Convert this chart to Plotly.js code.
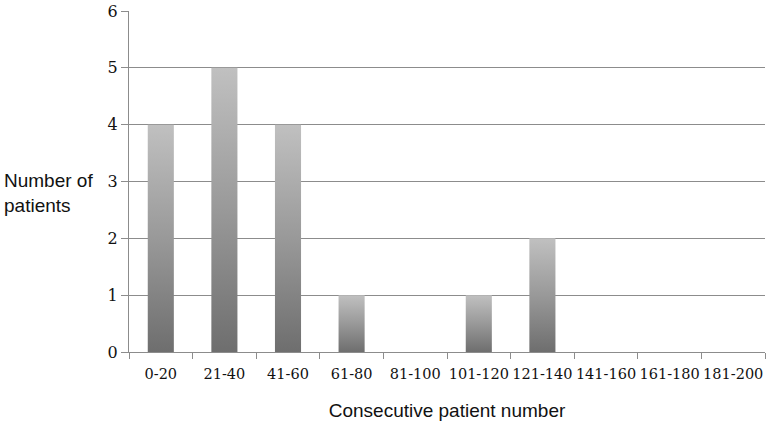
<!DOCTYPE html>
<html>
<head>
<meta charset="utf-8">
<script src="https://cdn.plot.ly/plotly-3.0.1.min.js"></script>
<style>html,body{margin:0;padding:0;background:#fff;}#chart{width:767px;height:423px;}</style>
</head>
<body>
<div id="chart"></div>
<script>
const categories = ['0-20','21-40','41-60','61-80','81-100','101-120','121-140','141-160','161-180','181-200'];
const patients = [4, 5, 4, 1, 0, 1, 2, 0, 0, 0];
const yTicks = [0, 1, 2, 3, 4, 5, 6];

const trace = {
  type: 'bar',
  x: categories,
  y: patients,
  width: 0.41,
  marker: {color: '#999999', line: {width: 0}},
  hoverinfo: 'none'
};

const layout = {
  width: 767, height: 423,
  margin: {l: 129, r: 2, t: 11, b: 71},
  paper_bgcolor: '#ffffff', plot_bgcolor: '#ffffff',
  showlegend: false,
  bargap: 0.59,
  xaxis: {
    type: 'category',
    tickson: 'boundaries',
    tickangle: 0,
    ticks: 'outside', ticklen: 6, tickcolor: '#8c8c8c', tickwidth: 1,
    ticklabelstandoff: 9,
    showline: true, linecolor: '#8c8c8c', linewidth: 1,
    showgrid: false, zeroline: false,
    tickfont: {family: 'DejaVu Serif', size: 14.5, color: '#111'},
    title: {text: 'Consecutive patient number', font: {family: 'Liberation Sans, Arial, sans-serif', size: 19, color: '#111'}, standoff: 22}
  },
  yaxis: {
    range: [0, 6],
    tickvals: yTicks,
    ticktext: yTicks.map(String),
    ticks: 'outside', ticklen: 7, tickcolor: '#8c8c8c', tickwidth: 1,
    showline: true, linecolor: '#8c8c8c', linewidth: 1,
    showgrid: true, gridcolor: '#8c8c8c', gridwidth: 1,
    zeroline: false,
    tickfont: {family: 'DejaVu Serif', size: 16, color: '#111'}
  },
  annotations: [{
    text: 'Number of<br>patients',
    xref: 'paper', yref: 'paper',
    x: -0.1997, y: 0.465,
    xanchor: 'left', yanchor: 'middle', align: 'left',
    showarrow: false,
    font: {family: 'Liberation Sans, Arial, sans-serif', size: 19, color: '#111'}
  }]
};

Plotly.newPlot('chart', [trace], layout, {displayModeBar: false, staticPlot: true}).then(function(gd){
  const svg = gd.querySelector('svg.main-svg');
  const ns = 'http://www.w3.org/2000/svg';
  let defs = svg.querySelector('defs');
  if (!defs) { defs = document.createElementNS(ns, 'defs'); svg.insertBefore(defs, svg.firstChild); }
  const grad = document.createElementNS(ns, 'linearGradient');
  grad.setAttribute('id', 'barGrad');
  grad.setAttribute('x1', '0'); grad.setAttribute('y1', '0');
  grad.setAttribute('x2', '0'); grad.setAttribute('y2', '1');
  [['0', '#c0c0c0'], ['0.5', '#999999'], ['1', '#6e6e6e']].forEach(function(s){
    const st = document.createElementNS(ns, 'stop');
    st.setAttribute('offset', s[0]);
    st.setAttribute('stop-color', s[1]);
    grad.appendChild(st);
  });
  defs.appendChild(grad);
  gd.querySelectorAll('.bars .point path').forEach(function(p){
    p.style.fill = 'url(#barGrad)';
  });
});
</script>
</body>
</html>
